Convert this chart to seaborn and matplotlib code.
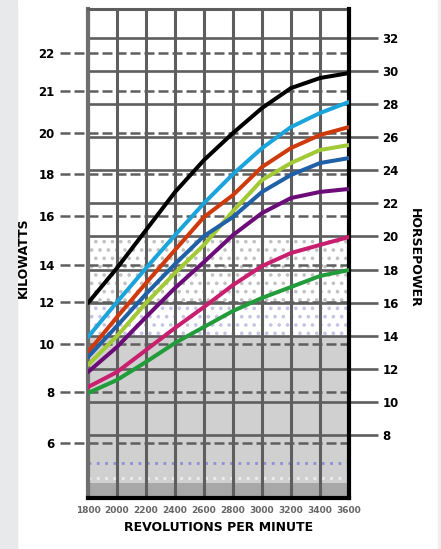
import matplotlib
matplotlib.use("Agg")
import matplotlib.pyplot as plt
from matplotlib.patches import Rectangle
import seaborn as sns
import pandas as pd

# data (horsepower at each rpm step)
rpm = [1800, 2000, 2200, 2400, 2600, 2800, 3000, 3200, 3400, 3600]
black_hp   = [15.97, 18.09, 20.39, 22.69, 24.63, 26.27, 27.78, 28.99, 29.60, 29.90]
cyan_hp    = [13.91, 16.03, 18.08, 20.08, 22.02, 23.78, 25.35, 26.63, 27.48, 28.15]
red_hp     = [13.00, 15.12, 17.18, 19.18, 21.18, 22.51, 24.21, 25.36, 26.15, 26.63]
lime_hp    = [12.22, 13.97, 15.97, 17.79, 19.49, 21.54, 23.42, 24.45, 25.24, 25.54]
blue_hp    = [12.70, 14.58, 16.52, 18.33, 20.03, 21.18, 22.70, 23.73, 24.45, 24.75]
purple_hp  = [11.79, 13.31, 15.12, 16.88, 18.46, 20.09, 21.42, 22.33, 22.70, 22.88]
magenta_hp = [10.88, 11.79, 13.12, 14.46, 15.73, 17.06, 18.21, 19.00, 19.49, 19.97]
green_hp   = [10.52, 11.31, 12.40, 13.55, 14.52, 15.49, 16.28, 16.94, 17.61, 17.97]

curve_names  = ["black", "cyan", "red", "lime", "blue", "purple", "magenta", "green"]
curve_colors = ["#000000", "#1ba3dc", "#cf3a0c", "#a2c936", "#1f60a6",
                "#6b0c78", "#c81f6e", "#229b3b"]

hp_ticks = [8, 10, 12, 14, 16, 18, 20, 22, 24, 26, 28, 30, 32]
kw_labels = ["6", "8", "10", "12", "14", "16", "18", "20", "21", "22"]
kw_pos_hp = [7.49, 10.58, 13.49, 16.03, 18.27, 21.24, 23.79, 26.27, 28.81, 31.11]

ylim = (4.16, 33.78)

df = pd.DataFrame({
    "rpm": rpm * len(curve_names),
    "hp": black_hp + cyan_hp + red_hp + lime_hp + blue_hp + purple_hp + magenta_hp + green_hp,
    "curve": [n for n in curve_names for _ in rpm],
})

sns.set_style("white")
plt.rcParams["font.family"] = ["DejaVu Sans"]
plt.rcParams["hatch.linewidth"] = 1.4

fig = plt.figure(figsize=(4.41, 5.49), dpi=100)
fig.patches.append(Rectangle((0, 0), 17 / 441, 1, transform=fig.transFigure,
                             color="#e7e9eb", zorder=0))
fig.patches.append(Rectangle((438 / 441, 0), 3 / 441, 1, transform=fig.transFigure,
                             color="#eceef0", zorder=0))
ax = fig.add_axes([88 / 441, 1 - 498 / 549, 261 / 441, 489 / 549])
ax2 = ax.twinx()

grid_col = "#5e5e5e"

# background bands
ax.axhspan(16.1, 20, facecolor="white", edgecolor="#c2c2c2", hatch="..", lw=0, zorder=0)
ax.axhspan(14, 16.1, facecolor="white", edgecolor="#c4c4e4", hatch="..", lw=0, zorder=0)
ax.axhspan(5.07, 14, facecolor="#d0d0d0", lw=0, zorder=0)
ax.axhspan(ylim[0], 5.07, facecolor="#a8a8a8", lw=0, zorder=0)
ax.axhline(6.28, color="#8e8ed8", ls=(0, (1, 2)), lw=2, zorder=1)
ax.axhline(5.37, color="#eeeeee", ls=(0, (1, 2)), lw=2, zorder=1)

# grid
for r in rpm:
    ax.axvline(r, color=grid_col, lw=2.2, zorder=2)
for h in hp_ticks:
    ax.axhline(h, color=grid_col, lw=1.9, zorder=2)
for p in kw_pos_hp:
    ax.plot([-0.107, 1], [p, p], transform=ax.get_yaxis_transform(), clip_on=False,
            color=grid_col, lw=1.8, ls=(0, (4, 1.6)), zorder=2)

sns.lineplot(data=df, x="rpm", y="hp", hue="curve", hue_order=curve_names,
             palette=curve_colors, lw=2.9, legend=False, ax=ax2, zorder=5)

for a in (ax, ax2):
    a.set_xlim(1800, 3600)
    a.set_ylim(*ylim)

ax.set_yticks(kw_pos_hp, kw_labels)
ax.tick_params(axis="y", length=0, pad=24, labelsize=8.5, labelcolor="black")
for t in ax.get_yticklabels():
    t.set_fontweight("bold")

ax2.set_yticks(hp_ticks, [str(h) for h in hp_ticks])
ax2.tick_params(axis="y", length=21, width=1.9, color=grid_col, pad=3, labelsize=8.5,
                labelcolor="black")
for t in ax2.get_yticklabels():
    t.set_fontweight("bold")
ax2.set_ylabel("")
ax2.set_xlabel("")

ax.set_xticks(rpm, [str(r) for r in rpm])
ax.tick_params(axis="x", length=0, pad=6, labelsize=6.5, labelcolor="#666666")
for t in ax.get_xticklabels():
    t.set_fontweight("bold")
ax.set_xlabel("REVOLUTIONS PER MINUTE", fontsize=9, fontweight="bold", labelpad=4,
              color="black")

# spines
for a in (ax, ax2):
    for s in a.spines.values():
        s.set_visible(False)
ax.spines["left"].set_visible(True)
ax.spines["left"].set_color("#6e6e6e")
ax.spines["left"].set_linewidth(3)
ax.spines["top"].set_visible(True)
ax.spines["top"].set_color(grid_col)
ax.spines["top"].set_linewidth(2.2)
ax2.spines["bottom"].set_visible(True)
ax2.spines["bottom"].set_color("black")
ax2.spines["bottom"].set_linewidth(3)
ax2.spines["right"].set_visible(True)
ax2.spines["right"].set_color("black")
ax2.spines["right"].set_linewidth(3)

fig.text(23 / 441, 1 - 258 / 549, "KILOWATTS", rotation=90, ha="center", va="center",
         fontsize=9, fontweight="bold", color="black")
fig.text(414 / 441, 1 - 258 / 549, "HORSEPOWER", rotation=270, ha="center", va="center",
         fontsize=9, fontweight="bold", color="black")

fig.savefig("out.png", dpi=100)
